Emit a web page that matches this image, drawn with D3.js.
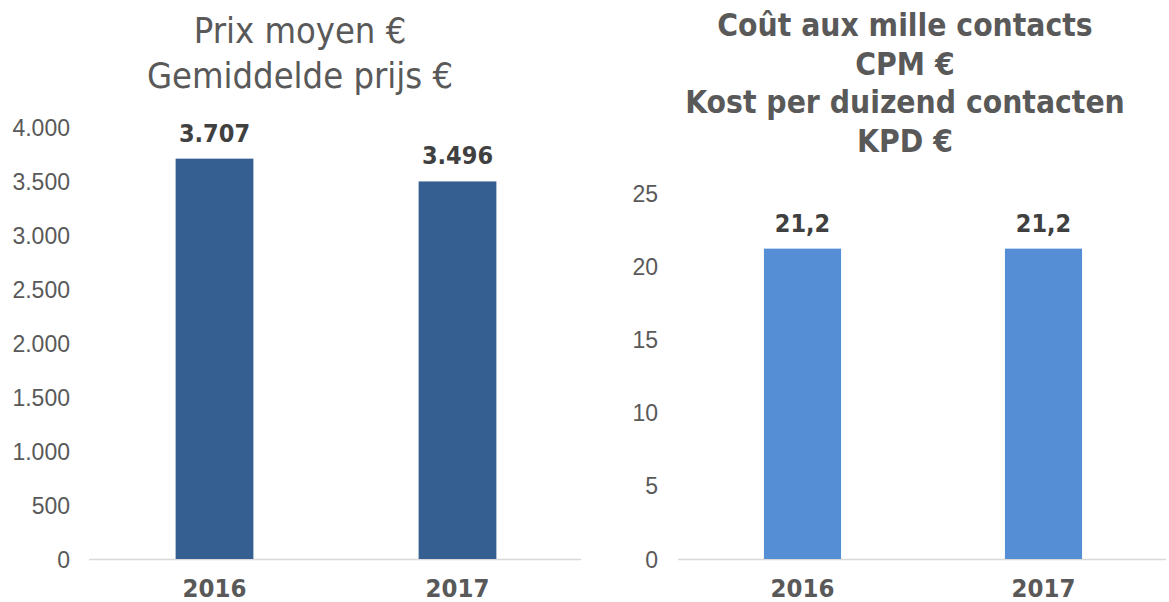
<!DOCTYPE html>
<html>
<head>
<meta charset="utf-8">
<script src="https://cdn.jsdelivr.net/npm/d3@7"></script>
<style>
  body { margin: 0; background: #fff; }
  svg { display: block; font-family: "DejaVu Sans Condensed", "DejaVu Sans", sans-serif; font-stretch: condensed; }
  .tick text { fill: #595959; font-size: 23px; }
  .title { fill: #595959; text-anchor: middle; }
  .val { fill: #404040; font-size: 25px; font-weight: bold; text-anchor: middle; }
  .cat { fill: #595959; font-size: 25.5px; font-weight: bold; text-anchor: middle; }
</style>
</head>
<body>
<div id="chart"></div>
<script>
// data
const years = ["2016", "2017"];
const prixMoyen = [3707, 3496];
const cpm = [21.2, 21.2];
const prixTicks = [0, 500, 1000, 1500, 2000, 2500, 3000, 3500, 4000];
const cpmTicks = [0, 5, 10, 15, 20, 25];

const W = 1169, H = 602;
const svg = d3.select("#chart").append("svg")
    .attr("width", W)
    .attr("height", H);

// number formats with comma decimal / dot thousands
const fmt = d3.formatLocale({decimal: ",", thousands: ".", grouping: [3], currency: ["", "€"]});

function panel(opts) {
  const g = svg.append("g");

  const x = d3.scaleBand()
      .domain(years)
      .range(opts.xRange)
      .paddingInner(0.68)
      .paddingOuter(0.34);

  const y = d3.scaleLinear()
      .domain([0, opts.max])
      .range([559, opts.yTop]);

  // title
  const t = g.append("text")
      .attr("class", "title")
      .style("font-size", opts.titleSize + "px")
      .style("font-weight", opts.titleWeight);
  opts.title.forEach((line, i) => {
    t.append("tspan")
      .attr("x", opts.titleX)
      .attr("y", opts.titleY + i * opts.titleLead)
      .text(line);
  });

  // y axis, labels only
  const yAxis = g.append("g")
      .attr("transform", `translate(${opts.axisX},0)`)
      .call(d3.axisLeft(y).tickValues(opts.ticks).tickSize(0).tickPadding(0).tickFormat(opts.tickFmt));
  yAxis.select(".domain").remove();
  yAxis.selectAll("text").attr("dy", "0.35em");

  // baseline
  g.append("line")
      .attr("x1", opts.xRange[0] - 4)
      .attr("x2", opts.xRange[1] + 2)
      .attr("y1", y(0) + 0.5)
      .attr("y2", y(0) + 0.5)
      .attr("stroke", "#d9d9d9")
      .attr("stroke-width", 1.5);

  // bars
  g.selectAll("rect.bar")
    .data(opts.values)
    .enter().append("rect")
      .attr("class", "bar")
      .attr("x", (d, i) => x(years[i]))
      .attr("y", d => y(d))
      .attr("width", x.bandwidth())
      .attr("height", d => y(0) - y(d))
      .attr("fill", opts.color);

  // value labels
  g.selectAll("text.val")
    .data(opts.values)
    .enter().append("text")
      .attr("class", "val")
      .attr("x", (d, i) => x(years[i]) + x.bandwidth() / 2)
      .attr("y", d => y(d) - 17)
      .text(opts.valFmt);

  // category labels
  g.selectAll("text.cat")
    .data(years)
    .enter().append("text")
      .attr("class", "cat")
      .attr("x", d => x(d) + x.bandwidth() / 2)
      .attr("y", 597)
      .text(d => d);
}

panel({
  xRange: [93, 579],
  max: 4000,
  yTop: 127,
  axisX: 70,
  ticks: prixTicks,
  tickFmt: fmt.format(",d"),
  values: prixMoyen,
  valFmt: fmt.format(",d"),
  color: "#365f91",
  title: ["Prix moyen €", "Gemiddelde prijs €"],
  titleX: 300,
  titleY: 43,
  titleLead: 45,
  titleSize: 36,
  titleWeight: "normal"
});

panel({
  xRange: [682, 1164],
  max: 25,
  yTop: 193,
  axisX: 658,
  ticks: cpmTicks,
  tickFmt: fmt.format("d"),
  values: cpm,
  valFmt: fmt.format(".1f"),
  color: "#558ed5",
  title: ["Coût aux mille contacts", "CPM €", "Kost per duizend contacten", "KPD €"],
  titleX: 905,
  titleY: 36,
  titleLead: 38.5,
  titleSize: 31.5,
  titleWeight: "bold"
});
</script>
</body>
</html>
